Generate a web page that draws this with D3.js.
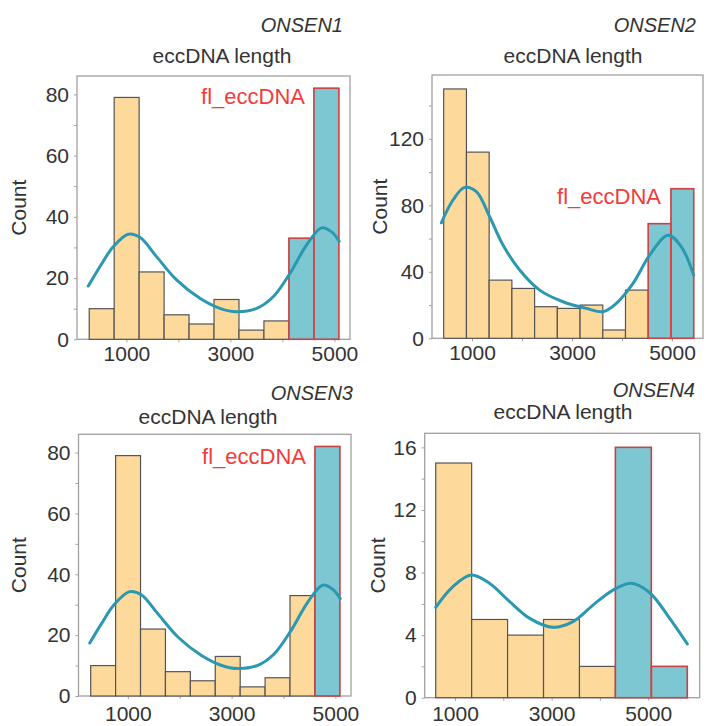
<!DOCTYPE html>
<html>
<head>
<meta charset="utf-8">
<script src="https://cdn.jsdelivr.net/npm/d3@7"></script>
<style>
  body { margin: 0; background: #fff; }
  svg text { font-family: "Liberation Sans", Arial, sans-serif; }
</style>
</head>
<body>
<div id="chart"></div>
<script>
// ---- data ----
// ONSEN1 / ONSEN3 share the same histogram
var edges1 = [285, 765, 1245, 1725, 2205, 2685, 3165, 3645, 4125, 4605, 5085];
var counts1 = [10, 79, 22, 8, 5, 13, 3, 6, 33, 82];
var kde1 = [[267, 17.4], [490, 23.7], [746, 30.2], [1035, 34.3], [1260, 33.3], [1580, 27],
  [1965, 19.4], [2413, 13.4], [2798, 10.1], [3119, 9], [3504, 10.1], [3823, 13.9],
  [4144, 21.5], [4465, 30.8], [4754, 36.4], [4946, 35.1], [5092, 32]];

var edges2 = [434, 889, 1343, 1798, 2252, 2707, 3161, 3616, 4070, 4525, 4979, 5434];
var counts2 = [150, 112, 35, 30, 19, 18, 20, 5, 29, 69, 90];
var kde2 = [[387, 69.5], [620, 83.2], [853, 90.8], [1087, 88.2], [1353, 73.1], [1620, 56.1],
  [1953, 41.1], [2353, 29], [2820, 22], [3287, 18], [3620, 16], [3887, 21], [4220, 33],
  [4553, 50], [4920, 62], [5187, 55], [5434, 38]];

var edges4 = [601, 1345, 2089, 2833, 3577, 4321, 5066, 5810];
var counts4 = [15, 5, 4, 5, 2, 16, 2];
var kde4 = [[601, 5.78], [959, 7.1], [1338, 7.84], [1719, 7.3], [2098, 6.24], [2547, 5.07],
  [3029, 4.5], [3443, 4.86], [3857, 5.92], [4272, 6.88], [4651, 7.31], [5031, 6.71],
  [5445, 5.07], [5810, 3.43]];

var names = ["ONSEN1", "ONSEN2", "ONSEN3", "ONSEN4"];
var flStart = [8, 9, 9, 5];          // first bin flagged as fl_eccDNA
var xMajor = [1000, 3000, 5000];
var xAll = [1000, 2000, 3000, 4000, 5000];
var yTicks1 = [0, 10, 20, 30, 40, 50, 60, 70, 80];
var yTicks2 = [0, 20, 40, 60, 80, 100, 120, 140];
var yTicks4 = [0, 2, 4, 6, 8, 10, 12, 14, 16];
var yMajor1 = [0, 20, 40, 60, 80];
var yMajor2 = [0, 40, 80, 120];
var yMajor4 = [0, 4, 8, 12, 16];

// ---- layout ----
var panels = [
  {edges: edges1, counts: counts1, kde: kde1, yt: yTicks1, ym: yMajor1,
   x0: 77, x1: 350, y0: 76, y1: 339.3, xd: [50, 5300], yd: [0, 86],
   nameX: 343, nameY: 32, titleX: 222, titleY: 63, countX: 19, flX: 305, flY: 104, lblOff: 22},
  {edges: edges2, counts: counts2, kde: kde2, yt: yTicks2, ym: yMajor2,
   x0: 432, x1: 703, y0: 75, y1: 338.3, xd: [200, 5620], yd: [0, 158.4],
   nameX: 696, nameY: 32, titleX: 573, titleY: 63, countX: 380, flX: 661, flY: 204, lblOff: 22},
  {edges: edges1, counts: counts1, kde: kde1, yt: yTicks1, ym: yMajor1,
   x0: 78.5, x1: 351, y0: 434.3, y1: 696, xd: [50, 5300], yd: [0, 86],
   nameX: 353, nameY: 400, titleX: 208, titleY: 424, countX: 19, flX: 306, flY: 464, lblOff: 25},
  {edges: edges4, counts: counts4, kde: kde4, yt: yTicks4, ym: yMajor4,
   x0: 424.7, x1: 699.7, y0: 433.3, y1: 697.7, xd: [373, 6066], yd: [0, 16.9],
   nameX: 695, nameY: 397, titleX: 563, titleY: 419, countX: 378, flX: null, flY: null, lblOff: 23.5}
];

var cOrange = "#fdd99c", cTeal = "#7dc7d2", cLine = "#2a98b0", cRed = "#f23b3b",
    cText = "#333", cFrame = "#a0a0a0", cEdge = "#555";

var svg = d3.select("#chart").append("svg")
  .attr("width", 706).attr("height", 726);

panels.forEach(function(p, k) {
  var g = svg.append("g");
  var x = d3.scaleLinear().domain(p.xd).range([p.x0, p.x1]);
  var y = d3.scaleLinear().domain(p.yd).range([p.y1, p.y0]);

  var bins = p.counts.map(function(c, i) {
    return {a: p.edges[i], b: p.edges[i + 1], c: c, fl: i >= flStart[k]};
  });

  // frame
  g.append("rect")
    .attr("x", p.x0).attr("y", p.y0)
    .attr("width", p.x1 - p.x0).attr("height", p.y1 - p.y0)
    .attr("fill", "none").attr("stroke", cFrame).attr("stroke-width", 1.3);

  // axes
  var ya = g.append("g").attr("transform", "translate(" + p.x0 + ",0)")
    .call(d3.axisLeft(y).tickValues(p.yt).tickSize(3).tickPadding(5)
      .tickFormat(function(d) { return p.ym.indexOf(d) >= 0 ? d : ""; }));
  var xa = g.append("g").attr("transform", "translate(0," + p.y1 + ")")
    .call(d3.axisBottom(x).tickValues(xAll).tickSize(3).tickPadding(p.lblOff - 18)
      .tickFormat(function(d) { return xMajor.indexOf(d) >= 0 ? d : ""; }));
  [ya, xa].forEach(function(a) {
    a.select(".domain").remove();
    a.selectAll("line").attr("stroke", cFrame);
    a.selectAll("text").attr("fill", cText).style("font-size", "21px");
  });
  xa.selectAll("text").attr("dy", "0.71em");

  // bars
  g.append("g").selectAll("rect").data(bins).join("rect")
    .attr("x", function(d) { return x(d.a); })
    .attr("y", function(d) { return y(d.c); })
    .attr("width", function(d) { return x(d.b) - x(d.a); })
    .attr("height", function(d) { return y(0) - y(d.c); })
    .attr("fill", function(d) { return d.fl ? cTeal : cOrange; })
    .attr("stroke", cEdge).attr("stroke-width", 1.2);

  // fl_eccDNA outline
  g.append("g").selectAll("rect").data(bins.filter(function(d) { return d.fl; })).join("rect")
    .attr("x", function(d) { return x(d.a); })
    .attr("y", function(d) { return y(d.c); })
    .attr("width", function(d) { return x(d.b) - x(d.a); })
    .attr("height", function(d) { return y(0) - y(d.c); })
    .attr("fill", "none").attr("stroke", cRed).attr("stroke-opacity", 0.75)
    .attr("stroke-width", 1.6);

  // kde line
  g.append("path").datum(p.kde)
    .attr("fill", "none").attr("stroke", cLine).attr("stroke-width", 3)
    .attr("stroke-linecap", "round")
    .attr("d", d3.line()
      .x(function(d) { return x(d[0]); })
      .y(function(d) { return y(d[1]); })
      .curve(d3.curveCatmullRom));

  // texts
  g.append("text").attr("x", p.nameX).attr("y", p.nameY)
    .attr("text-anchor", "end").attr("font-style", "italic")
    .attr("fill", cText).style("font-size", "20px").text(names[k]);
  g.append("text").attr("x", p.titleX).attr("y", p.titleY)
    .attr("text-anchor", "middle").attr("fill", cText)
    .style("font-size", "21px").text("eccDNA length");
  var cy = (p.y0 + p.y1) / 2;
  g.append("text")
    .attr("transform", "translate(" + (p.countX + 7) + "," + cy + ") rotate(-90)")
    .attr("text-anchor", "middle").attr("fill", cText)
    .style("font-size", "21px").text("Count");
  if (p.flX !== null) {
    g.append("text").attr("x", p.flX).attr("y", p.flY)
      .attr("text-anchor", "end").attr("fill", cRed)
      .style("font-size", "22px").text("fl_eccDNA");
  }
});
</script>
</body>
</html>
